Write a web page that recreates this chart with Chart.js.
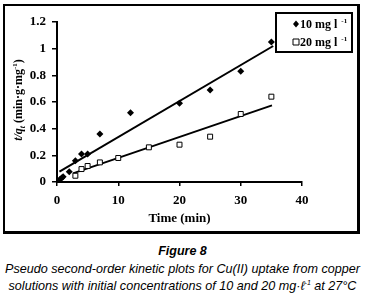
<!DOCTYPE html>
<html>
<head>
<meta charset="utf-8">
<script src="https://cdn.jsdelivr.net/npm/chart.js@4.4.1/dist/chart.umd.min.js"></script>
<style>
  html, body { margin: 0; padding: 0; background: #fff; }
  body { width: 365px; height: 293px; position: relative; overflow: hidden; }
  #frame {
    position: absolute; left: 3px; top: 4px; width: 357px; height: 230px;
    box-sizing: border-box; border: 2px solid #000; border-right-width: 3px; border-bottom-width: 3px;
  }
  #chartWrap { position: absolute; left: 0; top: 0; width: 365px; height: 234px; }
  .caption {
    position: absolute; left: 0; width: 365px; text-align: center;
    font-family: "Liberation Sans", Arial, sans-serif; font-style: italic; color: #000;
    white-space: nowrap; line-height: 15px;
  }
  #figTitle { top: 244px; font-size: 12.5px; font-weight: bold; }
  #line1 { top: 262px; font-size: 12.6px; }
  #line2 { top: 279px; font-size: 12.6px; }
  #line2 sup { font-size: 7px; line-height: 0; }
</style>
</head>
<body>
<div id="frame"></div>
<div id="chartWrap"><canvas id="kineticChart"></canvas></div>
<div class="caption" id="figTitle">Figure 8</div>
<div class="caption" id="line1">Pseudo second-order kinetic plots for Cu(II) uptake from copper</div>
<div class="caption" id="line2">solutions with initial concentrations of 10 and 20 mg·ℓ<sup>-1</sup> at 27°C</div>

<script>
// measured points, t/q_t vs time
const time10 = [0.5, 0.75, 1, 2, 3, 4, 5, 7, 12, 20, 25, 30, 35];
const tq10 = [0.02, 0.03, 0.04, 0.077, 0.16, 0.21, 0.21, 0.36, 0.52, 0.59, 0.69, 0.83, 1.05];
const time20 = [3, 4, 5, 7, 10, 15, 20, 25, 30, 35];
const tq20 = [0.047, 0.097, 0.12, 0.147, 0.18, 0.26, 0.28, 0.34, 0.51, 0.64];

// fitted straight lines (end points)
const fitTime10 = [0.4, 35.3];
const fitTq10 = [0.077, 1.02];
const fitTime20 = [2.6, 35.1];
const fitTq20 = [0.065, 0.575];

const xTicks = [0, 10, 20, 30, 40];
const yTicks = [0, 0.2, 0.4, 0.6, 0.8, 1, 1.2];
const legendLabels = ['10 mg l', '20 mg l'];

const SERIF = '"Liberation Serif", "Times New Roman", serif';

function toPoints(xs, ys) {
    return xs.map((x, i) => ({ x: x, y: ys[i] }));
}

// y-axis title with italic/subscript parts, drawn rotated
const yTitlePlugin = {
    id: 'yTitle',
    afterDraw(chart) {
        const ctx = chart.ctx;
        const parts = [
            { t: 't/q', font: 'italic bold 12px ' + SERIF, dy: 0 },
            { t: 't', font: 'italic bold 8px ' + SERIF, dy: 3 },
            { t: ' (min\u00b7g\u00b7mg', font: 'bold 12px ' + SERIF, dy: 0 },
            { t: '-1', font: 'bold 7px ' + SERIF, dy: -5 },
            { t: ')', font: 'bold 12px ' + SERIF, dy: 0 }
        ];
        ctx.save();
        let total = 0;
        parts.forEach(p => { ctx.font = p.font; p.w = ctx.measureText(p.t).width; total += p.w; });
        ctx.translate(22, 100);
        ctx.rotate(-Math.PI / 2);
        ctx.fillStyle = '#000';
        ctx.textBaseline = 'alphabetic';
        let x = -total / 2;
        parts.forEach(p => {
            ctx.font = p.font;
            ctx.fillText(p.t, x, p.dy);
            x += p.w;
        });
        ctx.restore();
    }
};

// boxed legend at top right
const boxLegendPlugin = {
    id: 'boxLegend',
    afterDraw(chart) {
        const ctx = chart.ctx;
        ctx.save();
        ctx.fillStyle = '#fff';
        ctx.fillRect(275, 12, 78, 41);
        ctx.strokeStyle = '#000';
        ctx.lineWidth = 2;
        ctx.strokeRect(276, 13, 76, 39);

        const rows = [24, 42];
        rows.forEach((y, i) => {
            const mx = 296;
            ctx.beginPath();
            if (i === 0) {
                ctx.moveTo(mx, y - 3.5);
                ctx.lineTo(mx + 3, y);
                ctx.lineTo(mx, y + 3.5);
                ctx.lineTo(mx - 3, y);
                ctx.closePath();
                ctx.fillStyle = '#000';
                ctx.fill();
            } else {
                ctx.rect(mx - 3, y - 3, 6, 6);
                ctx.fillStyle = '#fff';
                ctx.fill();
                ctx.lineWidth = 1;
                ctx.stroke();
            }
            ctx.fillStyle = '#000';
            ctx.textBaseline = 'middle';
            ctx.font = 'bold 12px ' + SERIF;
            ctx.fillText(legendLabels[i], 300, y + 1);
            const w = ctx.measureText(legendLabels[i]).width;
            ctx.font = 'bold 7px ' + SERIF;
            ctx.fillText('-1', 300 + w + 4, y - 3);
        });
        ctx.restore();
    }
};

const axisColor = '#000';

new Chart(document.getElementById('kineticChart'), {
    type: 'scatter',
    data: {
        datasets: [{
            label: '10 mg l-1',
            data: toPoints(time10, tq10),
            pointStyle: 'rectRot',
            pointRadius: 3.5,
            backgroundColor: '#000',
            borderColor: '#000',
            borderWidth: 0
        }, {
            label: '20 mg l-1',
            data: toPoints(time20, tq20),
            pointStyle: 'rect',
            pointRadius: 3.5,
            backgroundColor: '#fff',
            borderColor: '#000',
            borderWidth: 1
        }, {
            label: 'fit 10',
            data: toPoints(fitTime10, fitTq10),
            showLine: true,
            pointRadius: 0,
            borderColor: '#000',
            borderWidth: 2
        }, {
            label: 'fit 20',
            data: toPoints(fitTime20, fitTq20),
            showLine: true,
            pointRadius: 0,
            borderColor: '#000',
            borderWidth: 2
        }]
    },
    options: {
        responsive: true,
        maintainAspectRatio: false,
        animation: false,
        layout: { padding: { left: 0, right: 63, top: 22, bottom: 0 } },
        plugins: {
            legend: { display: false },
            tooltip: { enabled: false }
        },
        scales: {
            x: {
                type: 'linear',
                min: 0,
                max: 40,
                afterBuildTicks: scale => { scale.ticks = xTicks.map(v => ({ value: v })); },
                afterFit: scale => { scale.height = 52; },
                grid: { display: true, drawOnChartArea: false, drawTicks: true, tickLength: 4, color: axisColor, lineWidth: 1.5 },
                border: { display: true, color: axisColor, width: 2 },
                ticks: {
                    color: '#000',
                    padding: 7,
                    maxRotation: 0,
                    font: { family: SERIF, size: 13, weight: 'bold' }
                },
                title: {
                    display: true,
                    text: 'Time (min)',
                    color: '#000',
                    padding: { top: 0, bottom: 8 },
                    font: { family: SERIF, size: 13, weight: 'bold' }
                }
            },
            y: {
                type: 'linear',
                min: 0,
                max: 1.2,
                afterBuildTicks: scale => { scale.ticks = yTicks.map(v => ({ value: v })); },
                afterFit: scale => { scale.width = 57; },
                grid: { display: true, drawOnChartArea: false, drawTicks: true, tickLength: 5, color: axisColor, lineWidth: 1.5 },
                border: { display: true, color: axisColor, width: 2 },
                ticks: {
                    color: '#000',
                    padding: 6,
                    callback: v => String(Number(v.toFixed(1))),
                    font: { family: SERIF, size: 13, weight: 'bold' }
                }
            }
        }
    },
    plugins: [yTitlePlugin, boxLegendPlugin]
});
</script>
</body>
</html>
